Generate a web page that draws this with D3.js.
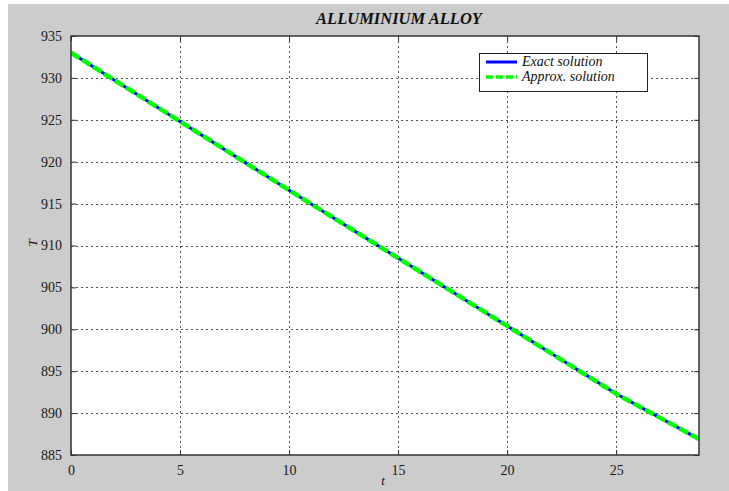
<!DOCTYPE html>
<html>
<head>
<meta charset="utf-8">
<script src="https://cdn.jsdelivr.net/npm/d3@7"></script>
<style>
  html, body { margin: 0; padding: 0; background: #ffffff; }
  svg { display: block; }
</style>
</head>
<body>
<svg id="chart" width="729" height="491"></svg>
<script>
// Cooling curve of an aluminium alloy: exact vs. approximate solution
const timeValues   = [0, 5, 10, 15, 20, 25, 28.8];
const exactValues  = [933.0, 924.8, 916.6, 908.5, 900.4, 892.3, 886.9];
const approxValues = [933.0, 924.8, 916.6, 908.5, 900.4, 892.3, 886.9];
const xTicks = [0, 5, 10, 15, 20, 25];
const yTicks = [885, 890, 895, 900, 905, 910, 915, 920, 925, 930, 935];
const seriesNames = ["Exact solution", "Approx. solution"];
const titleText = "ALLUMINIUM ALLOY";

const SERIF = "Times New Roman, Liberation Serif, Tinos, DejaVu Serif, serif";
const svg = d3.select("#chart");
const W = 729, H = 491;
const plot = { left: 71, top: 36, right: 699, bottom: 455 };

// figure background
svg.append("rect").attr("x", 0).attr("y", 0).attr("width", W).attr("height", H).attr("fill", "#ffffff");
svg.append("rect").attr("x", 8).attr("y", 4).attr("width", W - 8).attr("height", H - 4).attr("fill", "#cccccc");

const x = d3.scaleLinear().domain([0, 28.8]).range([plot.left, plot.right]);
const y = d3.scaleLinear().domain([885, 935]).range([plot.bottom, plot.top]);

// axes area
svg.append("rect")
  .attr("x", plot.left).attr("y", plot.top)
  .attr("width", plot.right - plot.left).attr("height", plot.bottom - plot.top)
  .attr("fill", "#ffffff");

// dotted grid
const grid = svg.append("g").attr("stroke", "#555").attr("stroke-width", 1).attr("stroke-dasharray", "2,3");
grid.selectAll("line.v").data(xTicks.filter(d => d > 0)).enter().append("line")
  .attr("x1", d => Math.round(x(d)) + 0.5).attr("x2", d => Math.round(x(d)) + 0.5)
  .attr("y1", plot.top).attr("y2", plot.bottom);
grid.selectAll("line.h").data(yTicks.filter(d => d > 885 && d < 935)).enter().append("line")
  .attr("y1", d => Math.round(y(d)) + 0.5).attr("y2", d => Math.round(y(d)) + 0.5)
  .attr("x1", plot.left).attr("x2", plot.right);

// series lines
const pts = (vals) => timeValues.map((t, i) => [t, vals[i]]);
const lineGen = d3.line().x(d => x(d[0])).y(d => y(d[1]));
svg.append("clipPath").attr("id", "clipPlot").append("rect")
  .attr("x", plot.left).attr("y", plot.top)
  .attr("width", plot.right - plot.left).attr("height", plot.bottom - plot.top);
const lines = svg.append("g").attr("clip-path", "url(#clipPlot)");
lines.append("path").datum(pts(exactValues))
  .attr("d", lineGen).attr("fill", "none")
  .attr("stroke", "#0000ff").attr("stroke-width", 3);
lines.append("path").datum(pts(approxValues))
  .attr("d", lineGen).attr("fill", "none")
  .attr("stroke", "#00ff00").attr("stroke-width", 4.5)
  .attr("stroke-dasharray", "10,3");

// axis ticks (inward, all four sides) via d3 axes
const tickStyle = g => {
  g.attr("font-family", SERIF);
  g.select(".domain").remove();
  g.selectAll(".tick line").attr("stroke", "#333").attr("stroke-width", 1);
  g.selectAll(".tick text").attr("font-family", SERIF).attr("font-size", 14).attr("fill", "#1a1a1a");
};
svg.append("g").attr("transform", `translate(0,${plot.bottom})`)
  .call(d3.axisBottom(x).tickValues(xTicks).tickSizeInner(-5).tickPadding(10).tickFormat(d3.format("d")))
  .call(tickStyle);
svg.append("g").attr("transform", `translate(0,${plot.top})`)
  .call(d3.axisTop(x).tickValues(xTicks).tickSizeInner(-5).tickFormat(""))
  .call(tickStyle);
svg.append("g").attr("transform", `translate(${plot.left},0)`)
  .call(d3.axisLeft(y).tickValues(yTicks).tickSizeInner(-5).tickPadding(9).tickFormat(d3.format("d")))
  .call(tickStyle);
svg.append("g").attr("transform", `translate(${plot.right},0)`)
  .call(d3.axisRight(y).tickValues(yTicks).tickSizeInner(-5).tickFormat(""))
  .call(tickStyle);

// axes box
svg.append("rect")
  .attr("x", plot.left).attr("y", plot.top)
  .attr("width", plot.right - plot.left).attr("height", plot.bottom - plot.top)
  .attr("fill", "none").attr("stroke", "#333").attr("stroke-width", 1.5);

// title and axis labels
svg.append("text").attr("x", 399).attr("y", 24)
  .attr("text-anchor", "middle").attr("font-family", SERIF)
  .attr("font-size", 16.5).attr("font-weight", "bold").attr("font-style", "italic")
  .attr("fill", "#111").text(titleText);
svg.append("text").attr("x", 383).attr("y", 485)
  .attr("text-anchor", "middle").attr("font-family", SERIF)
  .attr("font-size", 13).attr("font-style", "italic").attr("fill", "#111").text("t");
svg.append("text").attr("transform", "translate(37,243) rotate(-90)")
  .attr("text-anchor", "middle").attr("font-family", SERIF)
  .attr("font-size", 13).attr("font-style", "italic").attr("fill", "#111").text("T");

// legend
const lg = svg.append("g");
lg.append("rect").attr("x", 479.5).attr("y", 53.5).attr("width", 168).attr("height", 38)
  .attr("fill", "#ffffff").attr("stroke", "#222").attr("stroke-width", 1);
const legendItems = [
  { name: seriesNames[0], color: "#0000ff", width: 3, dash: null, y: 62 },
  { name: seriesNames[1], color: "#00ff00", width: 3.5, dash: "7,3", y: 77 }
];
legendItems.forEach(it => {
  lg.append("line").attr("x1", 486).attr("x2", 517).attr("y1", it.y).attr("y2", it.y)
    .attr("stroke", it.color).attr("stroke-width", it.width)
    .attr("stroke-dasharray", it.dash);
  lg.append("text").attr("x", 522).attr("y", it.y + 4)
    .attr("font-family", SERIF).attr("font-size", 14)
    .attr("font-style", "italic").attr("fill", "#111").text(it.name);
});
</script>
</body>
</html>
